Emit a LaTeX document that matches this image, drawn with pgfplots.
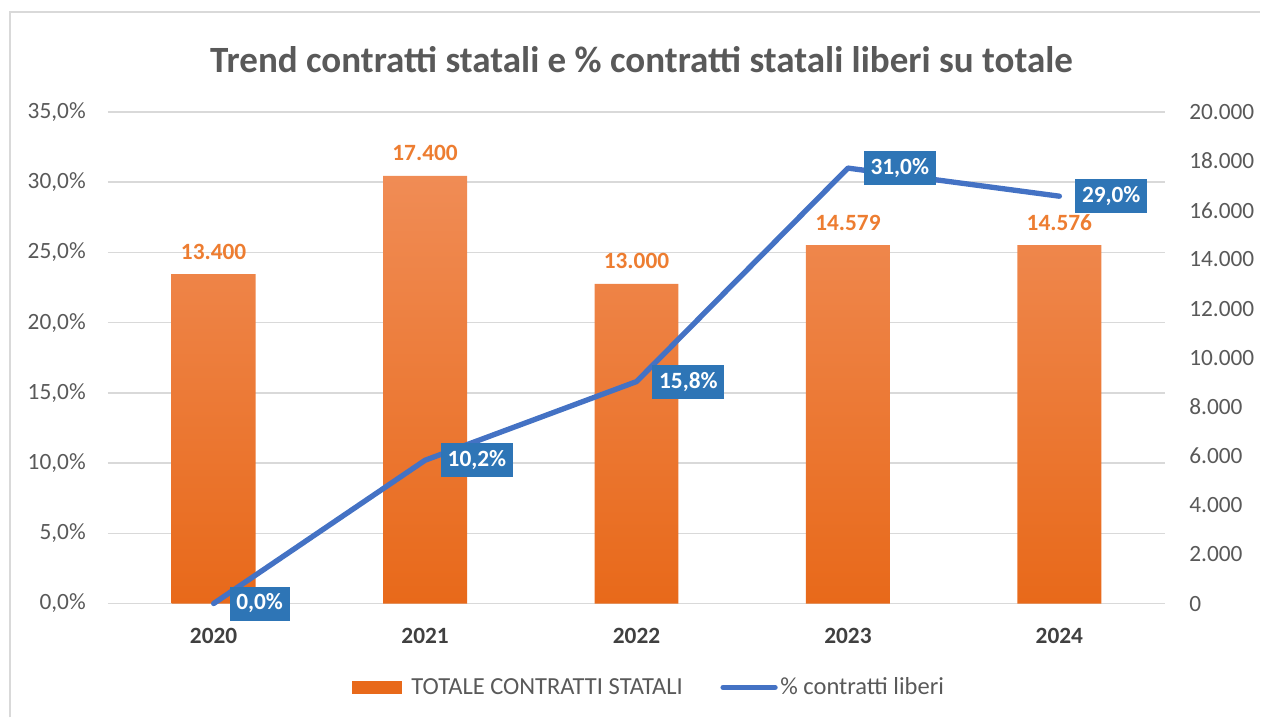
\documentclass[border=0pt]{standalone}
\usepackage{fontspec}
\setmainfont{Carlito}
\usepackage{pgfplots}
\pgfplotsset{compat=1.18}

\definecolor{barTop}{HTML}{F08C55}
\definecolor{barBot}{HTML}{E8691A}
\definecolor{barLab}{HTML}{ED7D31}
\definecolor{lineBlue}{HTML}{4472C4}
\definecolor{boxBlue}{HTML}{2E75B6}
\definecolor{gridGray}{HTML}{D9D9D9}
\definecolor{txtGray}{HTML}{595959}
\definecolor{yearGray}{HTML}{404040}

\newcommand{\lab}{\fontsize{17.5}{20}\selectfont}

\pgfplotsset{
  every axis/.append style={
    scale only axis, width=793.5pt, height=369pt,
    at={(81pt,85.5pt)}, anchor=south west,
    xmin=-0.5, xmax=4.5,
    axis line style={draw=none},
    major tick length=0pt,
    /pgf/number format/assume math mode=true,
    tick label style={font=\lab, text=txtGray},
  }
}

\begin{document}
\begin{tikzpicture}
\path (0,0) rectangle (945.75pt,538.5pt);
\draw[gridGray, line width=1.5pt] (7.5pt,0) -- (7.5pt,529.5pt) -- (945.75pt,529.5pt);

\node[font=\fontsize{27.8}{32}\selectfont\bfseries, text=txtGray] at (481.5pt,493.5pt)
  {Trend contratti statali e \% contratti statali liberi su totale};

% left axis: percent scale, grid and year labels
\begin{axis}[
  ymin=0, ymax=35, ytick={0,5,10,15,20,25,30,35},
  xtick={0,1,2,3,4}, xticklabels={2020,2021,2022,2023,2024},
  ymajorgrids, grid style={gridGray, line width=1pt},
  yticklabel={\pgfmathprintnumber[fixed,fixed zerofill,precision=1,use comma]{\tick}\%},
  yticklabel style={anchor=east, inner sep=0pt, xshift=-16.5pt},
  xticklabel style={anchor=north, inner sep=0pt, yshift=-18pt, font=\lab\bfseries, text=yearGray},
]
\addplot[draw=none] coordinates {(0,0)};
\end{axis}

% right axis: bars
\begin{axis}[
  ymin=0, ymax=20000, ytick={0,2000,4000,6000,8000,10000,12000,14000,16000,18000,20000},
  yticklabel pos=right, xtick=\empty,
  scaled y ticks=false,
  /pgf/number format/use comma,
  yticklabel style={anchor=west, inner sep=0pt, xshift=18pt},
  ybar, bar width=63pt,
  nodes near coords,
  nodes near coords style={font=\lab\bfseries, text=barLab, anchor=south, inner sep=0pt, yshift=11pt},
]
\addplot[draw=none, top color=barTop, bottom color=barBot]
  coordinates {(0,13400) (1,17400) (2,13000) (3,14579) (4,14576)};
\end{axis}

% percent line with labels and legend
\begin{axis}[
  ymin=0, ymax=35, hide axis, clip=false,
  legend columns=2,
  legend style={at={(0.5119,-0.1707)}, anchor=center, draw=none, fill=none,
    font=\fontsize{18.4}{21}\selectfont, text=txtGray,
    /tikz/every even column/.append style={column sep=26.25pt}},
]
\addlegendimage{legend image code/.code={\fill[barBot, draw=none] (0pt,-5pt) rectangle (38pt,5pt); \path[draw=none, fill=none] (0pt,0pt) -- (43pt,0pt);}}
\addlegendentry{TOTALE CONTRATTI STATALI}
\addplot[lineBlue, line width=4pt, line join=round, line cap=round,
  legend image code/.code={\draw[lineBlue, line width=4pt, line cap=round] (2pt,0pt) -- (41pt,0pt);},
  nodes near coords={\pgfmathprintnumber[fixed,fixed zerofill,precision=1,use comma]{\pgfplotspointmeta}\%},
  nodes near coords style={anchor=west, xshift=12pt, fill=boxBlue, text=white, outer sep=0pt,
    font=\lab\bfseries, inner xsep=5pt, inner ysep=0pt, minimum height=25.5pt},
] coordinates {(0,0) (1,10.2) (2,15.8) (3,31.0) (4,29.0)};
\addlegendentry{\% contratti liberi}
\end{axis}
\end{tikzpicture}
\end{document}
